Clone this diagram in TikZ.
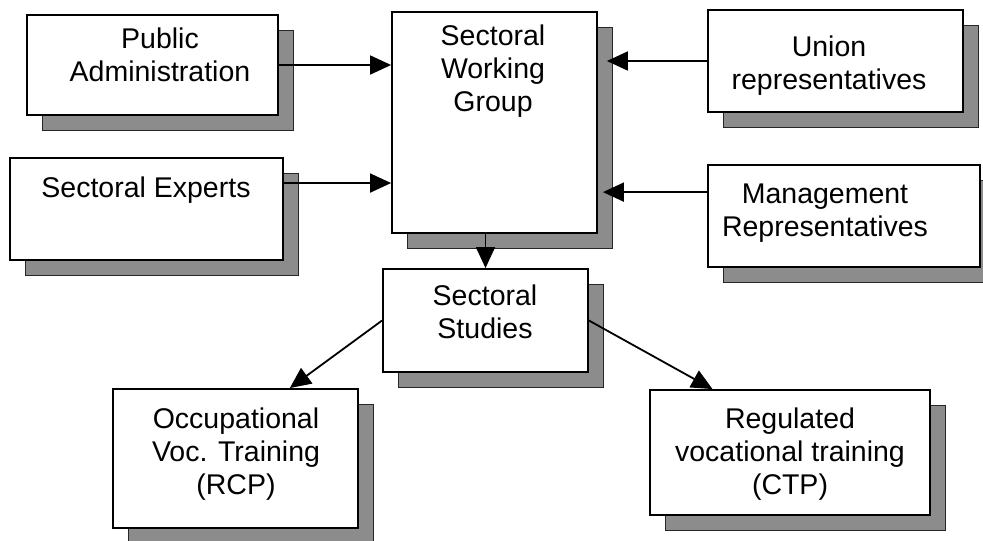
\documentclass[tikz,border=0pt]{standalone}
\usepackage{fontspec}
\setmainfont{Liberation Sans}
\usetikzlibrary{arrows.meta,shadows,calc}

\tikzset{
  box/.style={draw=black, line width=1.8pt, fill=white, inner sep=0pt,
    general shadow={shadow xshift=15pt, shadow yshift=-15pt,
      fill=black!45, draw=black!85, line width=1pt}},
  lbl/.style={anchor=north, align=center, inner sep=0pt,
    font={\fontsize{28.5pt}{33pt}\selectfont}},
  link/.style={line width=1.8pt, -{Triangle[length=21pt,width=19pt]}}
}

\begin{document}
\begin{tikzpicture}[x=1pt,y=-1pt]
  \useasboundingbox (0,0) rectangle (983,541);
  \begin{scope}
  \clip (0,0) rectangle (983,541);

  % boxes
  \node[box, minimum width=251pt, minimum height=100pt] (pa) at (152.5,65) {};
  \node[box, minimum width=273pt, minimum height=102pt] (ex) at (146.5,209) {};
  \node[box, minimum width=205pt, minimum height=221pt] (swg) at (494.5,122.5) {};
  \node[box, minimum width=255pt, minimum height=102pt] (un) at (835.5,61) {};
  \node[box, minimum width=272pt, minimum height=102pt] (mg) at (844,216) {};
  \node[box, minimum width=205pt, minimum height=103pt] (st) at (485.5,320.5) {};
  \node[box, minimum width=245pt, minimum height=139pt] (oc) at (235.5,458.5) {};
  \node[box, minimum width=280pt, minimum height=125pt] (rg) at (790,452.5) {};

  % labels
  \node[lbl] (pa-t) at (160,28) {Public\\Administration};
  \node[lbl] (ex-t) at (146,177) {Sectoral Experts};
  \node[lbl] (swg-t) at (493,25) {Sectoral\\Working\\Group};
  \node[lbl] (un-t) at (829,36) {Union\\representatives};
  \node[lbl] (mg-t) at (825,184) {Management\\Representatives};
  \node[lbl] (st-t) at (485,285) {Sectoral\\Studies};
  \node[lbl] (oc-t) at (236,408) {Occupational\\Voc. Training\\(RCP)};
  \node[lbl] (rg-t) at (790,408) {Regulated\\vocational training\\(CTP)};

  % connectors
  \coordinate (ex-out) at ($(ex.north east)!0.25!(ex.south east)$);
  \coordinate (mg-out) at ($(mg.north west)!0.27!(mg.south west)$);
  \coordinate (oc-in) at ($(oc.north west)!0.72!(oc.north east)$);
  \coordinate (rg-in) at ($(rg.north west)!0.225!(rg.north east)$);

  \draw[link] (pa.east) -- (pa.east -| swg.west);
  \draw[link] (ex-out) -- (ex-out -| swg.west);
  \draw[link] (un.west) -- ([xshift=9pt]un.west -| swg.east);
  \draw[link] (mg-out) -- ([xshift=5pt]mg-out -| swg.east);
  \draw[link] (st.north |- swg.south) -- (st.north);
  \draw[link] (st.west) -- (oc-in);
  \draw[link] (st.east) -- (rg-in);
  \end{scope}
\end{tikzpicture}
\end{document}
